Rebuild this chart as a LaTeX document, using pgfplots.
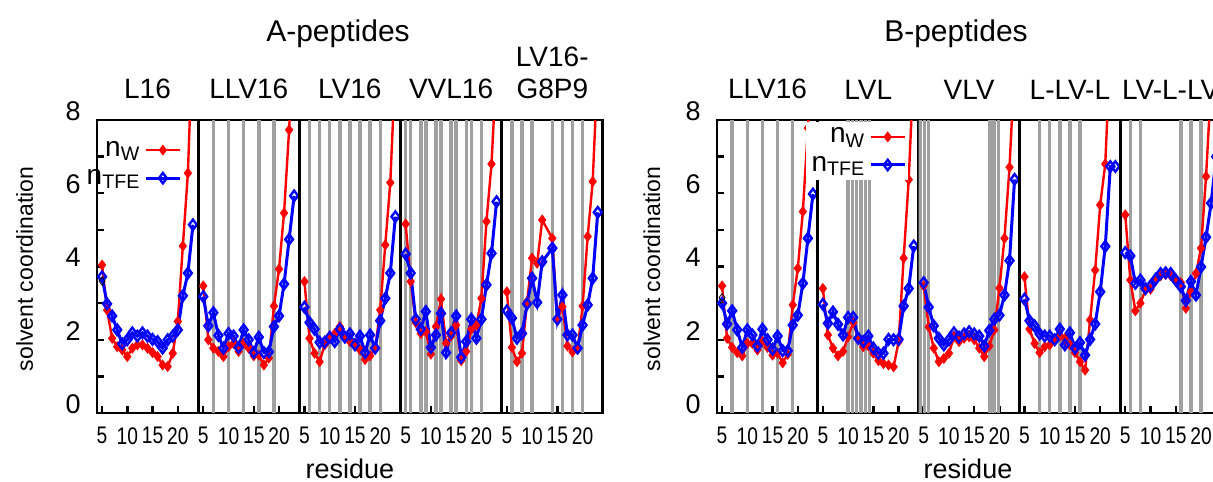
\documentclass[border=0pt]{standalone}
\usepackage{fontspec}
\setmainfont{Liberation Sans}
\usepackage{pgfplots}
\pgfplotsset{compat=1.18}

\definecolor{vgray}{RGB}{160,160,160}

\pgfplotsset{
  panel/.style={
    scale only axis, width=50.5pt, height=146.5pt,
    xmin=4, xmax=24, ymin=0, ymax=8,
    axis line style={line width=1.4pt},
    xtick={5,10,15,20}, ytick=\empty,
    tick style={black, line width=1.2pt},
    major tick length=3.5pt,
    xtick pos=left, xtick align=inside,
    /pgf/number format/assume math mode=true,
    xticklabel style={font=\fontsize{12}{14}\selectfont, inner sep=0pt, anchor=north, yshift=-7pt, xscale=0.8},
    title style={font=\fontsize{14}{16}\selectfont, at={(0.5,1)}, anchor=south, inner sep=0pt, yshift=4.2pt, align=center},
    anchor=south west,
  },
  firstpanel/.style={
    ytick={0,...,8}, yticklabels={0,,2,,4,,6,,8}, ytick pos=left, ytick align=inside,
    yticklabel style={font=\fontsize{13.5}{15}\selectfont, anchor=east, inner sep=0pt, xshift=-8pt, yshift=4.5pt},
  },
  leg/.style={
    legend plot pos=right,
    legend cell align=right,
    legend style={draw=none, fill=white, inner sep=1pt, row sep=1pt,
      font=\fontsize{14}{15}\selectfont, anchor=north east},
  },
  nw/.style={red, line width=1.2pt, mark=diamond*, mark size=1.8pt},
  ntfe/.style={blue, line width=1.5pt, mark=diamond, mark size=2.6pt, mark options={fill=white, line width=1.2pt}},
  vl/.style={vgray, line width=1.7pt, ycomb, no marks, forget plot},
  blk/.style={black, only marks, mark=diamond, mark size=2pt, forget plot},
}

\begin{document}
\begin{tikzpicture}
\path[use as bounding box] (0,0) rectangle (606.5pt,240.5pt);

% ---------------- A-peptides ----------------
\begin{axis}[panel, firstpanel, leg, at={(48.5pt,34pt)}, title={L16},
  legend style={at={(0.86,0.95)}, fill=none}]
\addplot[nw] coordinates {(5,4.04)(6,2.81)(7,2.04)(8,1.81)(9,1.72)(10,1.54)(11,1.77)(12,1.86)(13,1.86)(14,1.77)(15,1.65)(16,1.54)(17,1.31)(18,1.27)(19,1.63)(20,2.5)(21,4.56)(22,6.55)(23,10.5)};
\addlegendentry{n\textsubscript{W}}
\addplot[ntfe] coordinates {(5,3.72)(6,2.98)(7,2.65)(8,2.27)(9,1.89)(10,2.0)(11,2.19)(12,2.1)(13,2.19)(14,2.1)(15,2.01)(16,1.95)(17,1.77)(18,2.0)(19,2.1)(20,2.27)(21,3.2)(22,3.82)(23,5.14)};
\addlegendentry{n\textsubscript{TFE}}
\addplot[blk] coordinates {(5,3.6)};
\end{axis}

\begin{axis}[panel, at={(99.1pt,34pt)}, title={LLV16}]
\addplot[vl] coordinates {(7,8)(10,8)(13,8)(16,8)(19,8)};
\addplot[nw] coordinates {(5,3.47)(6,2.0)(7,1.77)(8,1.68)(9,1.54)(10,1.81)(11,1.9)(12,1.68)(13,1.9)(14,1.77)(15,1.56)(16,1.58)(17,1.31)(18,1.5)(19,2.92)(20,3.93)(21,5.46)(22,7.73)(23,10.5)};
\addplot[ntfe] coordinates {(5,3.18)(6,2.38)(7,2.74)(8,2.12)(9,1.77)(10,2.17)(11,2.1)(12,1.79)(13,2.27)(14,2.0)(15,1.65)(16,2.07)(17,1.65)(18,1.67)(19,2.36)(20,2.65)(21,3.52)(22,4.74)(23,5.93)};
\end{axis}

\begin{axis}[panel, at={(149.7pt,34pt)}, title={LV16}]
\addplot[vl] coordinates {(6,8)(8,8)(10,8)(12,8)(14,8)(16,8)(18,8)(20,8)};
\addplot[nw] coordinates {(5,3.59)(6,2.04)(7,1.63)(8,1.4)(9,1.86)(10,2.1)(11,2.17)(12,2.36)(13,2.1)(14,1.95)(15,1.9)(16,1.72)(17,1.46)(18,1.56)(19,1.77)(20,2.81)(21,4.59)(22,6.29)(23,9.5)};
\addplot[ntfe] coordinates {(5,2.89)(6,2.47)(7,2.29)(8,1.93)(9,1.93)(10,2.07)(11,1.95)(12,2.29)(13,2.07)(14,2.16)(15,1.86)(16,2.1)(17,1.65)(18,2.13)(19,1.77)(20,2.52)(21,3.13)(22,3.82)(23,5.36)};
\end{axis}

\begin{axis}[panel, at={(200.3pt,34pt)}, title={VVL16}]
\addplot[vl] coordinates {(5,8)(6,8)(8,8)(9,8)(11,8)(12,8)(14,8)(15,8)(17,8)(18,8)(20,8)};
\addplot[nw] coordinates {(5,5.16)(6,3.59)(7,2.47)(8,2.17)(9,2.22)(10,1.61)(11,2.36)(12,3.11)(13,1.9)(14,2.1)(15,2.4)(16,1.43)(17,1.68)(18,2.29)(19,2.4)(20,3.13)(21,5.23)(22,6.8)(23,9.5)};
\addplot[ntfe] coordinates {(5,4.34)(6,3.82)(7,2.56)(8,2.29)(9,2.77)(10,1.79)(11,2.13)(12,2.72)(13,1.65)(14,2.19)(15,2.65)(16,1.52)(17,1.95)(18,2.56)(19,2.04)(20,2.56)(21,3.5)(22,4.36)(23,5.77)};
\end{axis}

\begin{axis}[panel, at={(250.9pt,34pt)}, title={LV16-\\G8P9}]
\addplot[vl] coordinates {(6,8)(8,8)(10,8)(14,8)(16,8)(18,8)(20,8)};
\addplot[nw] coordinates {(5,3.31)(6,1.79)(7,1.4)(8,1.63)(9,3.04)(10,4.23)(11,4.09)(12,5.27)(14,4.77)(15,2.54)(16,2.9)(17,1.83)(18,1.67)(19,1.74)(20,2.92)(21,4.82)(22,6.32)(23,9.5)};
\addplot[ntfe] coordinates {(5,2.79)(6,2.59)(7,2.04)(8,2.17)(9,2.98)(10,3.68)(11,3.02)(12,4.13)(14,4.5)(15,2.56)(16,3.22)(17,2.13)(18,2.13)(19,1.77)(20,2.4)(21,2.95)(22,3.68)(23,5.48)};
\end{axis}

% ---------------- B-peptides ----------------
\begin{axis}[panel, firstpanel, at={(358.5pt,34pt)}, title={LLV16}]
\addplot[vl] coordinates {(7,8)(10,8)(13,8)(16,8)(19,8)};
\addplot[nw] coordinates {(5,3.47)(6,2.04)(7,1.79)(8,1.65)(9,1.56)(10,1.9)(11,1.9)(12,1.72)(13,1.95)(14,1.79)(15,1.58)(16,1.63)(17,1.37)(18,1.6)(19,2.95)(20,3.95)(21,5.5)(22,7.78)(23,10.5)};
\addplot[ntfe] coordinates {(5,3.0)(6,2.43)(7,2.79)(8,2.27)(9,1.79)(10,2.27)(11,2.13)(12,1.83)(13,2.29)(14,2.0)(15,1.74)(16,2.1)(17,1.7)(18,1.7)(19,2.4)(20,2.67)(21,3.54)(22,4.77)(23,5.98)};
\addplot[blk] coordinates {(5,3.15)};
\end{axis}

\begin{axis}[panel, leg, at={(408.9pt,34pt)}, title={LVL},
  legend style={at={(0.9,0.995)}}]
\addplot[vl] coordinates {(10,8)(10.85,8)(11.7,8)(12.55,8)(13.4,8)(14.25,8)};
\addplot[nw] coordinates {(5,3.4)(6,2.13)(7,1.77)(8,1.56)(9,1.68)(10,2.08)(11,2.47)(12,2.04)(13,1.81)(14,1.83)(15,1.63)(16,1.43)(17,1.35)(18,1.31)(19,1.26)(20,1.95)(21,4.23)(22,6.37)(23,9.5)};
\addlegendentry{n\textsubscript{W}}
\addplot[ntfe] coordinates {(5,2.97)(6,2.45)(7,2.76)(8,2.42)(9,2.13)(10,2.61)(11,2.61)(12,2.04)(13,1.95)(14,2.1)(15,1.77)(16,1.63)(17,1.63)(18,2.01)(19,2.0)(20,2.01)(21,2.92)(22,3.4)(23,4.56)};
\addlegendentry{n\textsubscript{TFE}}
\end{axis}

\begin{axis}[panel, at={(459.3pt,34pt)}, title={VLV}]
\addplot[vl] coordinates {(4.3,8)(5.15,8)(6.0,8)(18.1,8)(18.95,8)(19.8,8)};
\addplot[nw] coordinates {(5,3.47)(6,2.35)(7,1.77)(8,1.4)(9,1.49)(10,1.63)(11,2.08)(12,1.95)(13,2.04)(14,2.08)(15,2.0)(16,1.77)(17,1.54)(18,1.83)(19,2.27)(20,3.41)(21,4.77)(22,6.71)(23,9.5)};
\addplot[ntfe] coordinates {(5,3.56)(6,2.89)(7,2.38)(8,2.04)(9,1.86)(10,2.0)(11,2.19)(12,2.07)(13,2.16)(14,2.22)(15,2.16)(16,2.1)(17,1.83)(18,2.25)(19,2.56)(20,2.67)(21,3.22)(22,4.16)(23,6.38)};
\end{axis}

\begin{axis}[panel, at={(509.7pt,34pt)}, title={L-LV-L}]
\addplot[vl] coordinates {(8,8)(10,8)(12,8)(14,8)(16,8)};
\addplot[nw] coordinates {(5,3.72)(6,2.29)(7,1.9)(8,1.65)(9,1.81)(10,1.86)(11,2.0)(12,2.1)(13,2.04)(14,1.86)(15,1.65)(16,1.4)(17,1.17)(18,2.54)(19,3.9)(20,5.68)(21,6.8)(22,10)(23,12)};
\addplot[ntfe] coordinates {(5,3.11)(6,2.52)(7,2.38)(8,2.16)(9,2.1)(10,2.1)(11,2.0)(12,2.29)(13,1.86)(14,2.19)(15,1.77)(16,1.92)(17,1.58)(18,2.01)(19,2.43)(20,3.31)(21,4.55)(22,6.73)(23,6.73)};
\end{axis}

\begin{axis}[panel, at={(560.1pt,34pt)}, title={LV-L-LV}]
\addplot[vl] coordinates {(6,8)(8,8)(16,8)(18,8)(20,8)};
\addplot[nw] coordinates {(5,5.41)(6,3.63)(7,2.79)(8,3.0)(9,3.36)(10,3.38)(11,3.63)(12,3.75)(13,3.78)(14,3.75)(15,3.6)(16,3.56)(17,2.86)(18,3.31)(19,3.81)(20,4.5)(21,6.46)(22,9)(23,11)};
\addplot[ntfe] coordinates {(5,4.38)(6,4.29)(7,3.54)(8,3.63)(9,3.4)(10,3.47)(11,3.65)(12,3.81)(13,3.83)(14,3.81)(15,3.63)(16,3.45)(17,3.07)(18,3.59)(19,3.22)(20,3.99)(21,4.8)(22,5.73)(23,7)};
\end{axis}

% ---------------- shared labels ----------------
\node[font=\fontsize{15}{18}\selectfont, anchor=base] at (169pt,219.5pt) {A-peptides};
\node[font=\fontsize{15}{18}\selectfont, anchor=base] at (478pt,219.5pt) {B-peptides};
\node[font=\fontsize{13.5}{15}\selectfont, anchor=base] at (175pt,1.5pt) {residue};
\node[font=\fontsize{13.5}{15}\selectfont, anchor=base] at (484pt,1.5pt) {residue};
\node[font=\fontsize{11.5}{13}\selectfont, rotate=90, anchor=base] at (16.5pt,106pt) {solvent coordination};
\node[font=\fontsize{11.5}{13}\selectfont, rotate=90, anchor=base] at (330pt,106pt) {solvent coordination};
\end{tikzpicture}
\end{document}
